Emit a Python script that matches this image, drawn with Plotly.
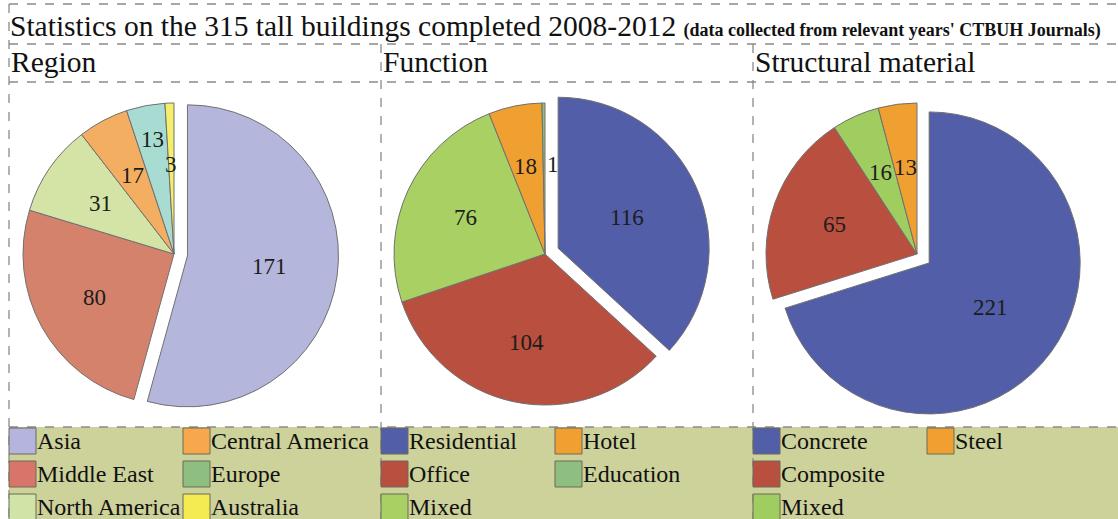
import math
import plotly.graph_objects as go

W, H = 1118, 519

# ---- data ----
region_labels = ["Asia", "Middle East", "North America", "Central America", "Europe", "Australia"]
region_values = [171, 80, 31, 17, 13, 3]
region_colors = ["#b4b6dc", "#d4826c", "#d3e4a6", "#f4ae62", "#a8dcd2", "#f5ee6a"]
region_legend_colors = ["#b4b4de", "#d9746a", "#cfe4a6", "#f7a84c", "#8fbf80", "#f4ea52"]
region_legend_order = ["Asia", "Central America", "Middle East", "Europe", "North America", "Australia"]

function_labels = ["Residential", "Office", "Mixed", "Hotel", "Education"]
function_values = [116, 104, 76, 18, 1]
function_colors = ["#525ea8", "#b94f3e", "#a9d063", "#f0a030", "#8fbf80"]
function_legend_order = ["Residential", "Hotel", "Office", "Education", "Mixed"]

material_labels = ["Concrete", "Composite", "Mixed", "Steel"]
material_values = [221, 65, 16, 13]
material_colors = ["#525ea8", "#b94f3e", "#a0cd60", "#f0a030"]
material_legend_order = ["Concrete", "Steel", "Composite", None, "Mixed"]

title_main = "Statistics on the 315 tall buildings completed 2008-2012"
title_note = "(data collected from relevant years' CTBUH Journals)"
panel_titles = ["Region", "Function", "Structural material"]

SERIF = "Liberation Serif"


def px(x):
    return x / W


def py(y):
    return 1 - y / H


fig = go.Figure()

# panel geometry (pixel space): pie centre, radius, pull,
# value-label radius factors and small horizontal nudges
panels = [
    dict(labels=region_labels, values=region_values, colors=region_colors,
         cx=174, cy=254, r=151, pull=0.09, left=9,
         label_r=[0.55, 0.6, 0.59, 0.59, 0.77, 0.59],
         label_dx=[0, 0, 0, 0, 0, 0]),
    dict(labels=function_labels, values=function_values, colors=function_colors,
         cx=545, cy=254, r=151, pull=0.095, left=381,
         label_r=[0.5, 0.6, 0.58, 0.59, 0.59],
         label_dx=[0, 0, 0, -2, 9]),
    dict(labels=material_labels, values=material_values, colors=material_colors,
         cx=917, cy=254, r=151, pull=0.1, left=753,
         label_r=[0.5, 0.58, 0.59, 0.58],
         label_dx=[0, 0, 0, 0]),
]

shapes = []
annotations = []

for p in panels:
    half = p["r"] * (1 + p["pull"])
    pulls = [p["pull"]] + [0] * (len(p["values"]) - 1)
    fig.add_trace(go.Pie(
        labels=p["labels"], values=p["values"],
        marker=dict(colors=p["colors"], line=dict(color="#707070", width=1)),
        sort=False, direction="clockwise", rotation=0, pull=pulls,
        textinfo="none",
        domain=dict(x=[px(p["cx"] - half), px(p["cx"] + half)],
                    y=[py(p["cy"] + half), py(p["cy"] - half)]),
        showlegend=False, hoverinfo="label+value",
    ))
    # value labels placed along each slice's mid-angle (clockwise from 12 o'clock)
    total = sum(p["values"])
    cum = 0
    for i, v in enumerate(p["values"]):
        theta = 2 * math.pi * (cum + v / 2) / total
        cum += v
        ux, uy = math.sin(theta), -math.cos(theta)
        ox = p["cx"] + pulls[i] * p["r"] * ux
        oy = p["cy"] + pulls[i] * p["r"] * uy
        k = p["label_r"][i] * p["r"]
        annotations.append(dict(xref="paper", yref="paper",
                                x=px(ox + k * ux + p["label_dx"][i]), y=py(oy + k * uy),
                                xanchor="center", yanchor="middle", showarrow=False,
                                text=str(v),
                                font=dict(family=SERIF, size=23, color="#1c1c1c")))

# legend strip background
shapes.append(dict(type="rect", xref="paper", yref="paper",
                   x0=px(9), x1=1, y0=0, y1=py(427),
                   fillcolor="#cdd29a", line=dict(width=0), layer="below"))

dash = dict(color="#8a8a8a", width=1.3, dash="dash")


def hline(y, x0, x1):
    shapes.append(dict(type="line", xref="paper", yref="paper",
                       x0=px(x0), x1=px(x1), y0=py(y), y1=py(y), line=dash))


def vline(x, y0, y1):
    shapes.append(dict(type="line", xref="paper", yref="paper",
                       x0=px(x), x1=px(x), y0=py(y0), y1=py(y1), line=dash))


hline(4, 9, 1118)
hline(44, 9, 1118)
hline(82, 9, 1118)
hline(427, 9, 1118)
vline(9, 4, 519)
vline(381, 44, 519)
vline(753, 44, 519)

# titles
annotations.append(dict(xref="paper", yref="paper", x=px(8), y=py(26),
                        xanchor="left", yanchor="middle", showarrow=False,
                        text=title_main + " <span style='font-size:18px;font-weight:bold'>"
                        + title_note + "</span>",
                        font=dict(family=SERIF, size=29.5, color="#111")))
for p, t in zip(panels, panel_titles):
    annotations.append(dict(xref="paper", yref="paper", x=px(p["left"]), y=py(62),
                            xanchor="left", yanchor="middle", showarrow=False,
                            text=t, font=dict(family=SERIF, size=29.5, color="#111")))

# hand-built two-column legends
legend_sets = [
    (region_legend_order, dict(zip(region_labels, region_legend_colors)), 9, 183),
    (function_legend_order, dict(zip(function_labels, function_colors)), 381, 555),
    (material_legend_order, dict(zip(material_labels, material_colors)), 753, 927),
]
row_y = [441, 474, 507]
for order, cmap, col0, col1 in legend_sets:
    for i, name in enumerate(order):
        if name is None:
            continue
        x0 = col0 if i % 2 == 0 else col1
        yc = row_y[i // 2]
        shapes.append(dict(type="rect", xref="paper", yref="paper",
                           x0=px(x0), x1=px(x0 + 27), y0=py(yc + 13), y1=py(yc - 13),
                           fillcolor=cmap[name], line=dict(color="#6b6b5a", width=1)))
        annotations.append(dict(xref="paper", yref="paper", x=px(x0 + 26), y=py(yc),
                                xanchor="left", yanchor="middle", showarrow=False,
                                text=name, font=dict(family=SERIF, size=24, color="#111")))

fig.update_layout(
    width=W, height=H,
    margin=dict(l=0, r=0, t=0, b=0),
    paper_bgcolor="white", plot_bgcolor="white",
    shapes=shapes, annotations=annotations,
)

fig.write_html("out.html")
